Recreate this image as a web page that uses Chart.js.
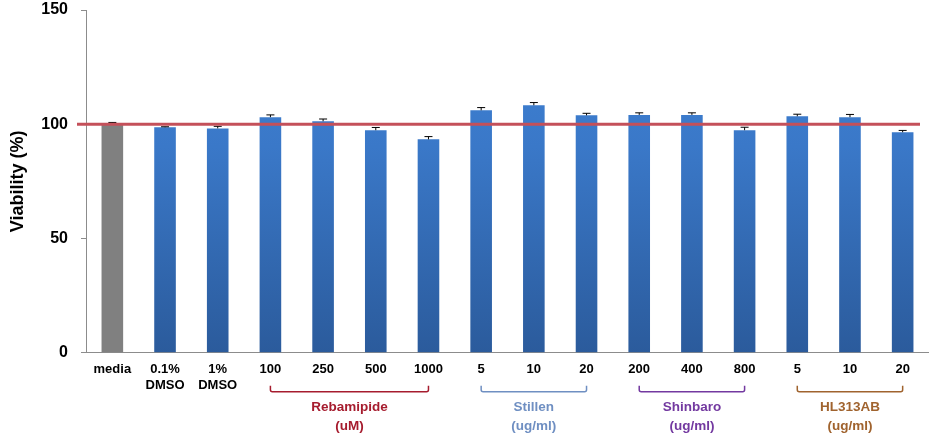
<!DOCTYPE html>
<html>
<head>
<meta charset="utf-8">
<script src="https://cdn.jsdelivr.net/npm/chart.js@4.4.0/dist/chart.umd.min.js"></script>
<style>
  html, body { margin: 0; padding: 0; background: #fff; }
  #wrap { width: 929px; height: 436px; position: relative; }
</style>
</head>
<body>
<div id="wrap"><canvas id="viabilityChart"></canvas></div>
<script>
// Cell viability per treatment, media = 100 % reference
const CATEGORIES = [
    'media', ['0.1%', 'DMSO'], ['1%', 'DMSO'],
    '100', '250', '500', '1000',
    '5', '10', '20',
    '200', '400', '800',
    '5', '10', '20'
];
const VIABILITY = [100.4, 98.7, 98.2, 103.1, 101.3, 97.4, 93.4, 106.1, 108.3, 103.9, 104.1, 104.1, 97.4, 103.5, 103.1, 96.5];
const ERRORS    = [0.4, 0.2, 0.9, 1.0, 1.0, 1.2, 1.2, 1.2, 1.2, 0.9, 0.9, 0.9, 1.3, 0.9, 1.2, 0.8];
const Y_TICKS = [0, 50, 100, 150];
const REFERENCE_LINE = 100;

// Treatment groups drawn as brackets under the axis
const GROUP_NAMES  = ['Rebamipide', 'Stillen', 'Shinbaro', 'HL313AB'];
const GROUP_UNITS  = ['(uM)', '(ug/ml)', '(ug/ml)', '(ug/ml)'];
const GROUP_FIRST  = [3, 7, 10, 13];
const GROUP_LAST   = [6, 9, 12, 15];
const GROUP_COLORS = ['#A61C2E', '#6F8FC2', '#7339A0', '#A0632E'];

const FONT = '"Liberation Sans", Arial, sans-serif';

function barFill(context) {
    if (context.dataIndex === 0) return '#808080';
    const area = context.chart.chartArea;
    if (!area) return '#3B78C8';
    const g = context.chart.ctx.createLinearGradient(0, area.top, 0, area.bottom);
    g.addColorStop(0, '#3F83D6');
    g.addColorStop(0.4, '#3A78C8');
    g.addColorStop(1, '#2B5B9C');
    return g;
}

const errorBars = {
    id: 'errorBars',
    afterDatasetsDraw(chart) {
        const { ctx } = chart;
        const y = chart.scales.y;
        const meta = chart.getDatasetMeta(0);
        ctx.save();
        ctx.strokeStyle = '#000';
        ctx.lineWidth = 1;
        meta.data.forEach((bar, i) => {
            const top = y.getPixelForValue(VIABILITY[i] + ERRORS[i]);
            ctx.beginPath();
            ctx.moveTo(bar.x, bar.y);
            ctx.lineTo(bar.x, top);
            ctx.moveTo(bar.x - 4, top);
            ctx.lineTo(bar.x + 4, top);
            ctx.stroke();
        });
        ctx.restore();
    }
};

const referenceLine = {
    id: 'referenceLine',
    afterDatasetsDraw(chart) {
        const { ctx, chartArea } = chart;
        const yy = chart.scales.y.getPixelForValue(REFERENCE_LINE);
        ctx.save();
        ctx.strokeStyle = '#C4505A';
        ctx.lineWidth = 3;
        ctx.beginPath();
        ctx.moveTo(chartArea.left - 9, yy);
        ctx.lineTo(chartArea.right - 9, yy);
        ctx.stroke();
        ctx.restore();
    }
};

const groupBrackets = {
    id: 'groupBrackets',
    afterDraw(chart) {
        const { ctx, chartArea } = chart;
        const x = chart.scales.x;
        const base = chartArea.bottom;
        ctx.save();
        ctx.textAlign = 'center';
        ctx.textBaseline = 'middle';
        ctx.font = 'bold 13.5px ' + FONT;
        GROUP_NAMES.forEach((name, g) => {
            const x0 = x.getPixelForValue(GROUP_FIRST[g]);
            const x1 = x.getPixelForValue(GROUP_LAST[g]);
            ctx.strokeStyle = GROUP_COLORS[g];
            ctx.lineWidth = 1.5;
            ctx.beginPath();
            ctx.moveTo(x0, base + 33);
            ctx.lineTo(x0, base + 37);
            ctx.quadraticCurveTo(x0, base + 39, x0 + 2, base + 39);
            ctx.lineTo(x1 - 2, base + 39);
            ctx.quadraticCurveTo(x1, base + 39, x1, base + 37);
            ctx.lineTo(x1, base + 33);
            ctx.stroke();
            ctx.fillStyle = GROUP_COLORS[g];
            const mid = (x0 + x1) / 2;
            ctx.fillText(name, mid, base + 54);
            ctx.fillText(GROUP_UNITS[g], mid, base + 73);
        });
        ctx.restore();
    }
};

new Chart(document.getElementById('viabilityChart'), {
    type: 'bar',
    data: {
        labels: CATEGORIES,
        datasets: [{
            data: VIABILITY,
            backgroundColor: barFill,
            borderWidth: 0,
            barPercentage: 0.41,
            categoryPercentage: 1
        }]
    },
    options: {
        responsive: true,
        maintainAspectRatio: false,
        animation: false,
        layout: { autoPadding: false, padding: { top: 10, right: 0, bottom: 34, left: 0 } },
        plugins: { legend: { display: false }, tooltip: { enabled: false } },
        scales: {
            x: {
                grid: { display: false, drawTicks: false },
                border: { display: true, color: '#8C8C8C', width: 1 },
                ticks: {
                    color: '#000',
                    font: { family: FONT, size: 13, weight: 'bold' },
                    padding: 9,
                    maxRotation: 0,
                    autoSkip: false
                }
            },
            y: {
                min: 0,
                max: 150,
                afterFit(scale) {
                    scale.width = 86;
                    scale.paddingTop = 0;
                    scale.paddingBottom = 0;
                },
                afterBuildTicks(scale) { scale.ticks = Y_TICKS.map(v => ({ value: v })); },
                grid: { display: true, drawOnChartArea: false, drawTicks: true, tickLength: 5, color: '#8C8C8C' },
                border: { display: true, color: '#8C8C8C', width: 1 },
                ticks: {
                    color: '#000',
                    font: { family: FONT, size: 16, weight: 'bold' },
                    padding: 13
                },
                title: {
                    display: true,
                    text: 'Viability (%)',
                    color: '#000',
                    font: { family: FONT, size: 18, weight: 'bold' },
                    padding: { top: 7, bottom: 0 }
                }
            }
        }
    },
    plugins: [errorBars, referenceLine, groupBrackets]
});
</script>
</body>
</html>
